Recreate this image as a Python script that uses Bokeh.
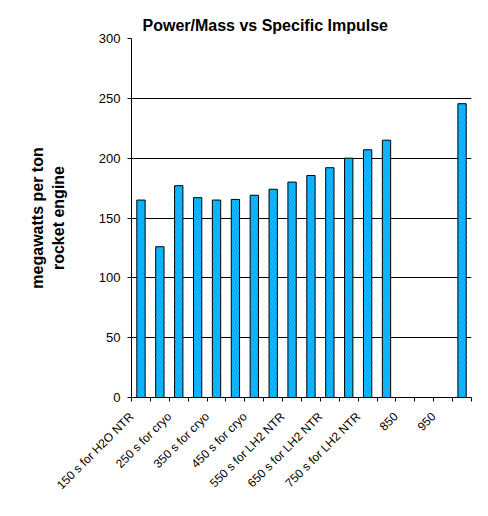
import math
from bokeh.plotting import figure
from bokeh.models import ColumnDataSource, Range1d, FixedTicker
from bokeh.embed import file_html
from bokeh.resources import INLINE

# ---- data ----
isp_seconds = [150, 200, 250, 300, 350, 400, 450, 500, 550, 600,
               650, 700, 750, 800, 850, 900, 950, 1000]
power_per_mass = [165, 126, 177, 167, 165, 165.5, 169, 174, 180, 185.5,
                  192, 200, 207, 215, None, None, None, 245.5]
label_positions = [0, 2, 4, 6, 8, 10, 12, 14, 16]
tick_labels = ["150 s for H2O NTR", "250 s for cryo", "350 s for cryo",
               "450 s for cryo", "550 s for LH2 NTR", "650 s for LH2 NTR",
               "750 s for LH2 NTR", "850", "950"]
y_ticks = [0, 50, 100, 150, 200, 250, 300]
grid_ticks = [50, 100, 150, 200, 250]

idx = [i for i, v in enumerate(power_per_mass) if v is not None]
src = ColumnDataSource(dict(x=idx,
                            top=[power_per_mass[i] for i in idx],
                            isp=[isp_seconds[i] for i in idx]))

FONT = "Liberation Sans"
n = len(isp_seconds)
LABEL_SHIFT = 0.5  # rotated labels end a little left of the category centre

p = figure(width=472, height=500, output_backend="svg", toolbar_location=None,
           x_range=Range1d(-0.502, n - 0.5), y_range=Range1d(0, 300),
           min_border_left=131, min_border_right=1, min_border_top=38,
           min_border_bottom=102, title="Power/Mass  vs Specific Impulse")
p.outline_line_color = None
p.background_fill_color = "white"
p.border_fill_color = "white"

p.title.text_font = FONT
p.title.text_font_size = "16px"
p.title.text_font_style = "bold"
p.title.text_color = "black"
p.title.align = "left"
p.title.offset = 11
p.title.standoff = 10

p.vbar(x="x", top="top", width=0.44, source=src, fill_color="#00CCFF",
       line_color="black", line_width=1,
       hatch_pattern="\\", hatch_color="#3366FF", hatch_weight=0.8,
       hatch_alpha=0.8, hatch_scale=5)

# y axis
ya = p.yaxis[0]
ya.ticker = FixedTicker(ticks=y_ticks)
ya.axis_line_color = "black"
ya.major_tick_line_color = "black"
ya.major_tick_out = 4
ya.major_tick_in = 0
ya.minor_tick_line_color = None
ya.major_label_text_font = FONT
ya.major_label_text_font_size = "13px"
ya.major_label_text_color = "black"
ya.major_label_standoff = 7
ya.axis_label = "megawatts per ton\nrocket engine"
ya.axis_label_text_font = FONT
ya.axis_label_text_font_size = "16px"
ya.axis_label_text_font_style = "bold"
ya.axis_label_text_color = "black"
ya.axis_label_standoff = 29

# x axis
shifted = [k - LABEL_SHIFT for k in label_positions]
xa = p.xaxis[0]
xa.ticker = FixedTicker(ticks=shifted,
                        minor_ticks=[i - 0.5 for i in range(n + 1)])
xa.major_label_overrides = {k: t for k, t in zip(shifted, tick_labels)}
xa.major_tick_in = 0
xa.major_tick_out = 0
xa.minor_tick_in = 0
xa.minor_tick_out = 4
xa.minor_tick_line_color = "black"
xa.axis_line_color = "black"
xa.major_label_orientation = math.pi / 4
xa.major_label_text_font = FONT
xa.major_label_text_font_size = "12px"
xa.major_label_text_color = "black"
xa.major_label_standoff = 13

p.xgrid.grid_line_color = None
p.ygrid.ticker = FixedTicker(ticks=grid_ticks)
p.ygrid.grid_line_color = "black"
p.ygrid.grid_line_width = 1

open("out.html", "w").write(file_html(p, INLINE))
